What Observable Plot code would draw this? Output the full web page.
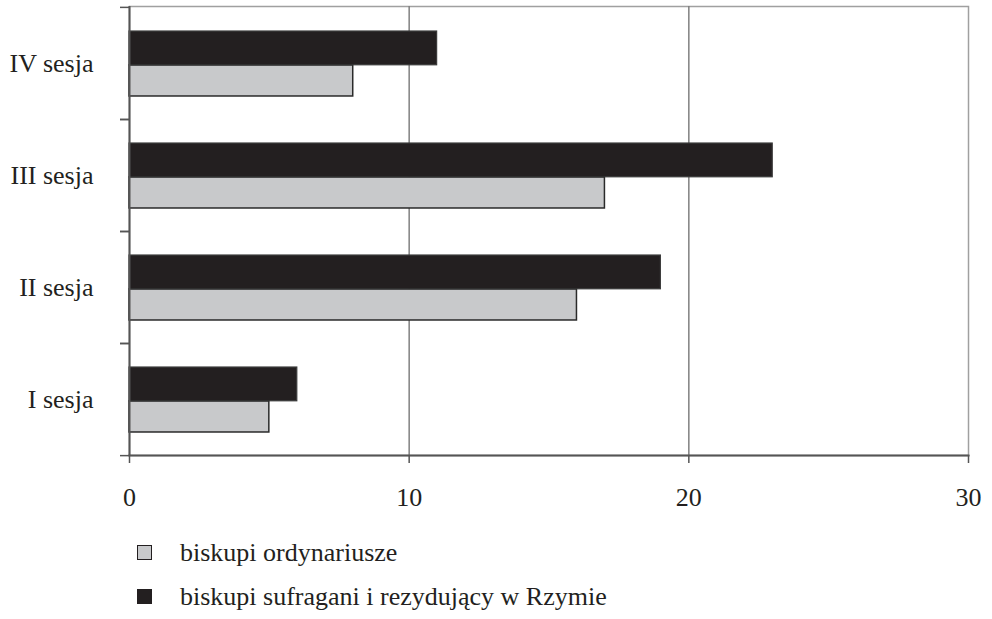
<!DOCTYPE html>
<html><head><meta charset="utf-8">
<script src="https://cdn.jsdelivr.net/npm/d3@7"></script>
<script src="https://cdn.jsdelivr.net/npm/@observablehq/plot@0.6"></script>
<style>
body{margin:0;background:#fff;font-family:"Liberation Serif","DejaVu Serif",serif;color:#231f20;}
#legend{padding-top:11px;}
.item{position:relative;height:44px;line-height:44px;font-size:26px;padding-left:180px;white-space:nowrap;}
.sw{position:absolute;left:137px;top:14px;width:13px;height:13px;border:1.5px solid #231f20;}
</style></head><body><div id="chart"></div><div id="legend"></div>
<script>
const categories = ["I sesja", "II sesja", "III sesja", "IV sesja"];
const ordynariusze = [5, 16, 17, 8];
const sufragani = [6, 19, 23, 11];
const seriesNames = ["biskupi ordynariusze", "biskupi sufragani i rezydujący w Rzymie"];
const seriesColors = ["#c8c9cb", "#231f20"];
const xTicks = [0, 10, 20, 30];

const W = 992, H = 520, mT = 6, mB = 65, mL = 129, mR = 24;
const bw = (H - mT - mB) / categories.length;
const rows = categories.map((c, i) => ({category: c, ord: ordynariusze[i], suf: sufragani[i]}));
const FONT = '"Liberation Serif", "DejaVu Serif", serif';

const chart = Plot.plot({
  width: W, height: H, marginTop: mT, marginBottom: mB, marginLeft: mL, marginRight: mR,
  style: {fontFamily: FONT, fontSize: "26px", color: "#231f20", background: "#fff"},
  x: {domain: [0, 30]},
  y: {domain: categories.slice().reverse(), padding: 0},
  marks: [
    Plot.frame({stroke: "#a0a0a0", strokeWidth: 1.5}),
    Plot.gridX(xTicks.slice(1, -1), {stroke: "#808080", strokeOpacity: 1, strokeWidth: 1.5}),
    Plot.barX(rows, {y: "category", x: "suf", fill: seriesColors[1], stroke: "#3a3a3a", strokeWidth: 1.2,
      insetTop: bw * 0.214, insetBottom: bw * 0.483}),
    Plot.barX(rows, {y: "category", x: "ord", fill: seriesColors[0], stroke: "#2a2a2a", strokeWidth: 1.5,
      insetTop: bw * 0.517, insetBottom: bw * 0.205}),
    Plot.ruleX([0], {stroke: "#555", strokeWidth: 2}),
    Plot.frame({anchor: "bottom", stroke: "#555", strokeWidth: 2}),
    Plot.axisX(xTicks, {tickSize: 8, tickPadding: 24, stroke: "#555", strokeWidth: 1.5, fill: "#231f20", label: null, fontFamily: FONT}),
    Plot.axisY({tickSize: 9, tickFormat: () => "", dy: -bw / 2, stroke: "#555", strokeWidth: 1.5, label: null}),
    Plot.axisY({tickSize: 9, tickFormat: () => "", dy: bw / 2, stroke: "#555", strokeWidth: 1.5, label: null}),
    Plot.axisY({tickSize: 0, tickPadding: 36, fill: "#231f20", label: null, fontFamily: FONT})
  ]
});
document.getElementById("chart").append(chart);

const legend = document.getElementById("legend");
seriesNames.forEach((name, i) => {
  const item = document.createElement("div");
  item.className = "item";
  const sw = document.createElement("span");
  sw.className = "sw";
  sw.style.background = seriesColors[i];
  item.append(sw, document.createTextNode(name));
  legend.append(item);
});
</script>
</body></html>
